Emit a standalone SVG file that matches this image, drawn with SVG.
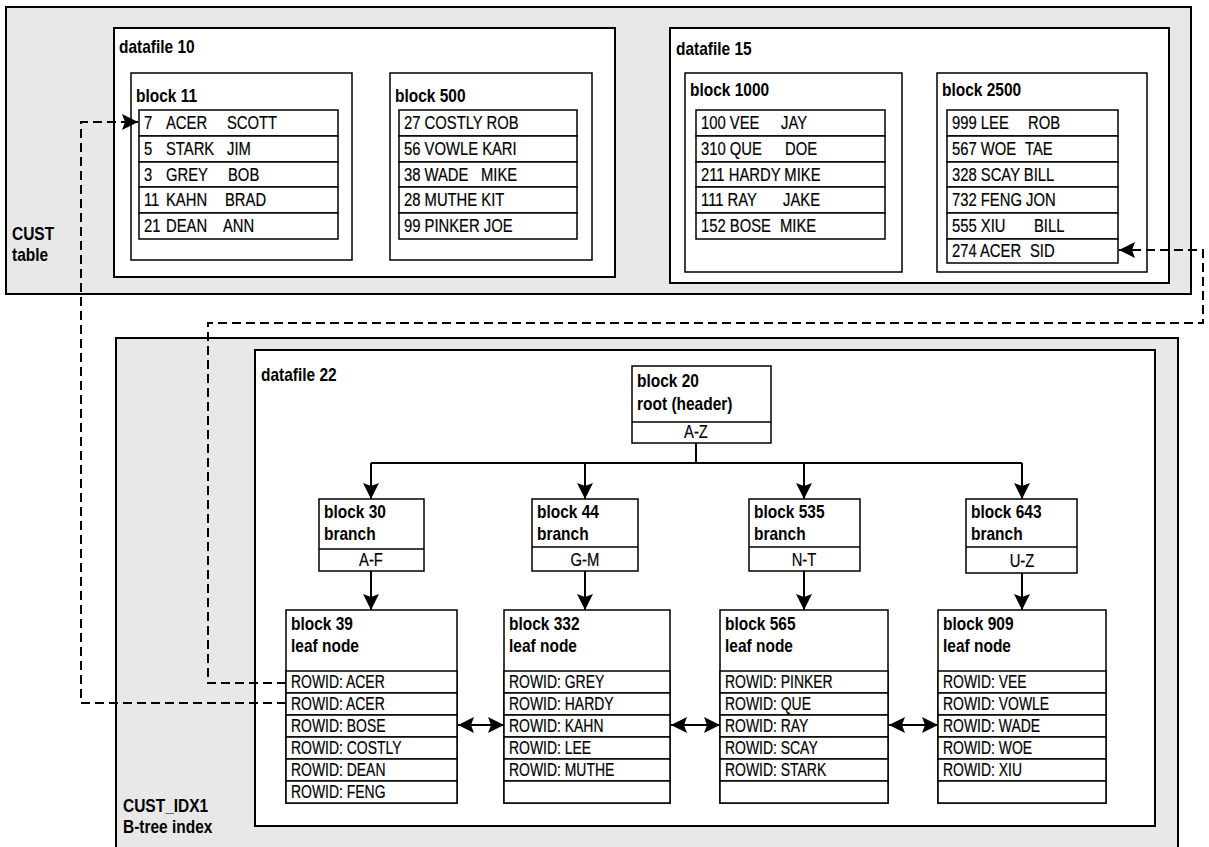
<svg xmlns="http://www.w3.org/2000/svg" width="1209" height="847" viewBox="0 0 1209 847">
<style>
.grey{fill:#e8e8e8;stroke:#000;stroke-width:2}
.df{fill:#fff;stroke:#000;stroke-width:2}
.blk{fill:#fff;stroke:#000;stroke-width:1.5}
.row{fill:#fff;stroke:#000;stroke-width:1.5}
.lb{font-family:"Liberation Sans",Arial,sans-serif;font-weight:bold;font-size:19px;fill:#000}
.rt{font-family:"Liberation Sans",Arial,sans-serif;font-size:19px;fill:#000;stroke:#000;stroke-width:0.2}
.lr{font-family:"Liberation Sans",Arial,sans-serif;font-size:18px;fill:#000;stroke:#000;stroke-width:0.2}
.mid{text-anchor:middle}
.ln{fill:none;stroke:#000;stroke-width:2}
.dv{fill:none;stroke:#000;stroke-width:1.5}
.dash{fill:none;stroke:#000;stroke-width:2;stroke-dasharray:9 5}
</style>
<defs>
<marker id="ah" markerUnits="userSpaceOnUse" markerWidth="16" markerHeight="16" refX="16" refY="8" orient="auto-start-reverse" viewBox="0 0 16 16">
<path d="M0,0 L16,8 L0,16 L3,8 z" fill="#000"/>
</marker>
</defs>

<g id="cust-table">
<rect class="grey" x="6" y="7" width="1185" height="287"/>
<g transform="scale(0.815 1)">
<text class="lb" x="14.72" y="240">CUST</text>
<text class="lb" x="14.72" y="261">table</text>
</g>
</g>

<g id="datafile-10">
<rect class="df" x="114" y="28" width="501" height="249"/>
<g transform="scale(0.815 1)"><text class="lb" x="146.01" y="53">datafile 10</text></g>
</g>

<g id="block-11">
<rect class="blk" x="131" y="73" width="221" height="187"/>
<g transform="scale(0.815 1)"><text class="lb" x="166.87" y="102">block 11</text></g>
<rect class="row" x="139" y="110" width="199" height="26"/>
<rect class="row" x="139" y="136" width="199" height="26"/>
<rect class="row" x="139" y="162" width="199" height="25"/>
<rect class="row" x="139" y="187" width="199" height="26"/>
<rect class="row" x="139" y="213" width="199" height="26"/>
<g transform="scale(0.78 1)">
<text class="rt" y="129"><tspan x="184.62">7 </tspan><tspan x="212.82">ACER </tspan><tspan x="291.03">SCOTT</tspan></text>
<text class="rt" y="155"><tspan x="184.62">5 </tspan><tspan x="212.82">STARK </tspan><tspan x="291.03">JIM</tspan></text>
<text class="rt" y="181"><tspan x="184.62">3 </tspan><tspan x="212.82">GREY </tspan><tspan x="292.31">BOB</tspan></text>
<text class="rt" y="206"><tspan x="184.62">11 </tspan><tspan x="212.82">KAHN </tspan><tspan x="288.46">BRAD</tspan></text>
<text class="rt" y="232"><tspan x="184.62">21 </tspan><tspan x="212.82">DEAN </tspan><tspan x="285.90">ANN</tspan></text>
</g>
</g>

<g id="block-500">
<rect class="blk" x="390" y="73" width="202" height="187"/>
<g transform="scale(0.815 1)"><text class="lb" x="484.66" y="102">block 500</text></g>
<rect class="row" x="399" y="110" width="178" height="26"/>
<rect class="row" x="399" y="136" width="178" height="26"/>
<rect class="row" x="399" y="162" width="178" height="25"/>
<rect class="row" x="399" y="187" width="178" height="26"/>
<rect class="row" x="399" y="213" width="178" height="26"/>
<g transform="scale(0.78 1)">
<text class="rt" x="517.95" y="129">27 COSTLY ROB</text>
<text class="rt" x="517.95" y="155">56 VOWLE KARI</text>
<text class="rt" y="181"><tspan x="517.95">38 WADE </tspan><tspan x="616.67">MIKE</tspan></text>
<text class="rt" x="517.95" y="206">28 MUTHE KIT</text>
<text class="rt" x="517.95" y="232">99 PINKER JOE</text>
</g>
</g>

<g id="datafile-15">
<rect class="df" x="670" y="28" width="499" height="255"/>
<g transform="scale(0.815 1)"><text class="lb" x="829.45" y="55">datafile 15</text></g>
</g>

<g id="block-1000">
<rect class="blk" x="685" y="73" width="217" height="199"/>
<g transform="scale(0.815 1)"><text class="lb" x="846.63" y="96">block 1000</text></g>
<rect class="row" x="696" y="110" width="189" height="26"/>
<rect class="row" x="696" y="136" width="189" height="26"/>
<rect class="row" x="696" y="162" width="189" height="25"/>
<rect class="row" x="696" y="187" width="189" height="26"/>
<rect class="row" x="696" y="213" width="189" height="26"/>
<g transform="scale(0.78 1)">
<text class="rt" y="129"><tspan x="898.72">100 VEE </tspan><tspan x="1001.28">JAY</tspan></text>
<text class="rt" y="155"><tspan x="898.72">310 QUE </tspan><tspan x="1006.41">DOE</tspan></text>
<text class="rt" x="898.72" y="181">211 HARDY MIKE</text>
<text class="rt" y="206"><tspan x="898.72">111 RAY </tspan><tspan x="1003.85">JAKE</tspan></text>
<text class="rt" y="232"><tspan x="898.72">152 BOSE </tspan><tspan x="1000">MIKE</tspan></text>
</g>
</g>

<g id="block-2500">
<rect class="blk" x="937" y="73" width="210" height="199"/>
<g transform="scale(0.815 1)"><text class="lb" x="1155.83" y="96">block 2500</text></g>
<rect class="row" x="947" y="110" width="171" height="26"/>
<rect class="row" x="947" y="136" width="171" height="26"/>
<rect class="row" x="947" y="162" width="171" height="25"/>
<rect class="row" x="947" y="187" width="171" height="26"/>
<rect class="row" x="947" y="213" width="171" height="26"/>
<rect class="row" x="947" y="239" width="171" height="24"/>
<g transform="scale(0.78 1)">
<text class="rt" y="129"><tspan x="1220.51">999 LEE </tspan><tspan x="1317.95">ROB</tspan></text>
<text class="rt" y="155"><tspan x="1220.51">567 WOE </tspan><tspan x="1314.10">TAE</tspan></text>
<text class="rt" x="1220.51" y="181">328 SCAY BILL</text>
<text class="rt" x="1220.51" y="206">732 FENG JON</text>
<text class="rt" y="232"><tspan x="1220.51">555 XIU </tspan><tspan x="1325.64">BILL</tspan></text>
<text class="rt" y="257"><tspan x="1220.51">274 ACER </tspan><tspan x="1320.51">SID</tspan></text>
</g>
</g>

<g id="cust-idx1">
<rect class="grey" x="116" y="338" width="1062" height="520"/>
<g transform="scale(0.815 1)">
<text class="lb" x="150.92" y="812">CUST_IDX1</text>
<text class="lb" x="150.92" y="833">B-tree index</text>
</g>
</g>

<g id="datafile-22">
<rect class="df" x="255" y="350" width="900" height="476"/>
<g transform="scale(0.815 1)"><text class="lb" x="320.25" y="381">datafile 22</text></g>
</g>

<g id="block-20">
<rect class="blk" x="632" y="366" width="139" height="77"/>
<line class="dv" x1="632" y1="422" x2="771" y2="422"/>
<g transform="scale(0.815 1)">
<text class="lb" x="781.60" y="387">block 20</text>
<text class="lb" x="781.60" y="410">root (header)</text>
</g>
<g transform="scale(0.78 1)"><text class="rt mid" x="892.31" y="438">A-Z</text></g>
</g>

<g id="block-30">
<rect class="blk" x="319" y="499" width="105" height="72"/>
<line class="dv" x1="319" y1="549" x2="424" y2="549"/>
<g transform="scale(0.815 1)">
<text class="lb" x="397.55" y="518">block 30</text>
<text class="lb" x="397.55" y="540">branch</text>
</g>
<g transform="scale(0.78 1)"><text class="rt mid" x="475.64" y="566">A-F</text></g>
</g>

<g id="block-44">
<rect class="blk" x="532" y="499" width="106" height="72"/>
<line class="dv" x1="532" y1="547" x2="638" y2="547"/>
<g transform="scale(0.815 1)">
<text class="lb" x="658.90" y="518">block 44</text>
<text class="lb" x="658.90" y="540">branch</text>
</g>
<g transform="scale(0.78 1)"><text class="rt mid" x="750" y="566">G-M</text></g>
</g>

<g id="block-535">
<rect class="blk" x="749" y="499" width="111" height="72"/>
<line class="dv" x1="749" y1="547" x2="860" y2="547"/>
<g transform="scale(0.815 1)">
<text class="lb" x="925.15" y="518">block 535</text>
<text class="lb" x="925.15" y="540">branch</text>
</g>
<g transform="scale(0.78 1)"><text class="rt mid" x="1030.77" y="566">N-T</text></g>
</g>

<g id="block-643">
<rect class="blk" x="966" y="499" width="111" height="74"/>
<line class="dv" x1="966" y1="547" x2="1077" y2="547"/>
<g transform="scale(0.815 1)">
<text class="lb" x="1191.41" y="518">block 643</text>
<text class="lb" x="1191.41" y="540">branch</text>
</g>
<g transform="scale(0.78 1)"><text class="rt mid" x="1310.26" y="567">U-Z</text></g>
</g>

<g id="block-39">
<rect class="blk" x="286" y="610" width="171" height="193"/>
<g transform="scale(0.815 1)">
<text class="lb" x="357.06" y="630">block 39</text>
<text class="lb" x="357.06" y="652">leaf node</text>
</g>
<rect class="row" x="286" y="671" width="171" height="22"/>
<rect class="row" x="286" y="693" width="171" height="22"/>
<rect class="row" x="286" y="715" width="171" height="22"/>
<rect class="row" x="286" y="737" width="171" height="22"/>
<rect class="row" x="286" y="759" width="171" height="22"/>
<rect class="row" x="286" y="781" width="171" height="22"/>
<g transform="scale(0.775 1)">
<text class="lr" x="375.48" y="688">ROWID: ACER</text>
<text class="lr" x="375.48" y="710">ROWID: ACER</text>
<text class="lr" x="375.48" y="732">ROWID: BOSE</text>
<text class="lr" x="375.48" y="754">ROWID: COSTLY</text>
<text class="lr" x="375.48" y="776">ROWID: DEAN</text>
<text class="lr" x="375.48" y="798">ROWID: FENG</text>
</g>
</g>

<g id="block-332">
<rect class="blk" x="504" y="610" width="166" height="193"/>
<g transform="scale(0.815 1)">
<text class="lb" x="624.54" y="630">block 332</text>
<text class="lb" x="624.54" y="652">leaf node</text>
</g>
<rect class="row" x="504" y="671" width="166" height="22"/>
<rect class="row" x="504" y="693" width="166" height="22"/>
<rect class="row" x="504" y="715" width="166" height="22"/>
<rect class="row" x="504" y="737" width="166" height="22"/>
<rect class="row" x="504" y="759" width="166" height="22"/>
<rect class="row" x="504" y="781" width="166" height="22"/>
<g transform="scale(0.775 1)">
<text class="lr" x="656.77" y="688">ROWID: GREY</text>
<text class="lr" x="656.77" y="710">ROWID: HARDY</text>
<text class="lr" x="656.77" y="732">ROWID: KAHN</text>
<text class="lr" x="656.77" y="754">ROWID: LEE</text>
<text class="lr" x="656.77" y="776">ROWID: MUTHE</text>
</g>
</g>

<g id="block-565">
<rect class="blk" x="720" y="610" width="168" height="193"/>
<g transform="scale(0.815 1)">
<text class="lb" x="889.57" y="630">block 565</text>
<text class="lb" x="889.57" y="652">leaf node</text>
</g>
<rect class="row" x="720" y="671" width="168" height="22"/>
<rect class="row" x="720" y="693" width="168" height="22"/>
<rect class="row" x="720" y="715" width="168" height="22"/>
<rect class="row" x="720" y="737" width="168" height="22"/>
<rect class="row" x="720" y="759" width="168" height="22"/>
<rect class="row" x="720" y="781" width="168" height="22"/>
<g transform="scale(0.775 1)">
<text class="lr" x="935.48" y="688">ROWID: PINKER</text>
<text class="lr" x="935.48" y="710">ROWID: QUE</text>
<text class="lr" x="935.48" y="732">ROWID: RAY</text>
<text class="lr" x="935.48" y="754">ROWID: SCAY</text>
<text class="lr" x="935.48" y="776">ROWID: STARK</text>
</g>
</g>

<g id="block-909">
<rect class="blk" x="938" y="610" width="168" height="193"/>
<g transform="scale(0.815 1)">
<text class="lb" x="1157.06" y="630">block 909</text>
<text class="lb" x="1157.06" y="652">leaf node</text>
</g>
<rect class="row" x="938" y="671" width="168" height="22"/>
<rect class="row" x="938" y="693" width="168" height="22"/>
<rect class="row" x="938" y="715" width="168" height="22"/>
<rect class="row" x="938" y="737" width="168" height="22"/>
<rect class="row" x="938" y="759" width="168" height="22"/>
<rect class="row" x="938" y="781" width="168" height="22"/>
<g transform="scale(0.775 1)">
<text class="lr" x="1216.77" y="688">ROWID: VEE</text>
<text class="lr" x="1216.77" y="710">ROWID: VOWLE</text>
<text class="lr" x="1216.77" y="732">ROWID: WADE</text>
<text class="lr" x="1216.77" y="754">ROWID: WOE</text>
<text class="lr" x="1216.77" y="776">ROWID: XIU</text>
</g>
</g>

<g id="connectors">
<polyline class="ln" points="696,443 696,463"/>
<polyline class="ln" points="371,463 1022,463"/>
<line class="ln" x1="371" y1="463" x2="371" y2="499" marker-end="url(#ah)"/>
<line class="ln" x1="585" y1="463" x2="585" y2="499" marker-end="url(#ah)"/>
<line class="ln" x1="804" y1="463" x2="804" y2="499" marker-end="url(#ah)"/>
<line class="ln" x1="1022" y1="463" x2="1022" y2="499" marker-end="url(#ah)"/>
<line class="ln" x1="371" y1="571" x2="371" y2="610" marker-end="url(#ah)"/>
<line class="ln" x1="585" y1="571" x2="585" y2="610" marker-end="url(#ah)"/>
<line class="ln" x1="804" y1="571" x2="804" y2="610" marker-end="url(#ah)"/>
<line class="ln" x1="1022" y1="573" x2="1022" y2="610" marker-end="url(#ah)"/>
<line class="ln" x1="458" y1="725" x2="504" y2="725" marker-start="url(#ah)" marker-end="url(#ah)"/>
<line class="ln" x1="671" y1="725" x2="720" y2="725" marker-start="url(#ah)" marker-end="url(#ah)"/>
<line class="ln" x1="889" y1="725" x2="938" y2="725" marker-start="url(#ah)" marker-end="url(#ah)"/>
<polyline class="dash" points="286,703 81,703 81,122 138,122" marker-end="url(#ah)"/>
<polyline class="dash" points="286,683 208,683 208,323 1203,323 1203,250 1119,250" marker-end="url(#ah)"/>
</g>
</svg>
